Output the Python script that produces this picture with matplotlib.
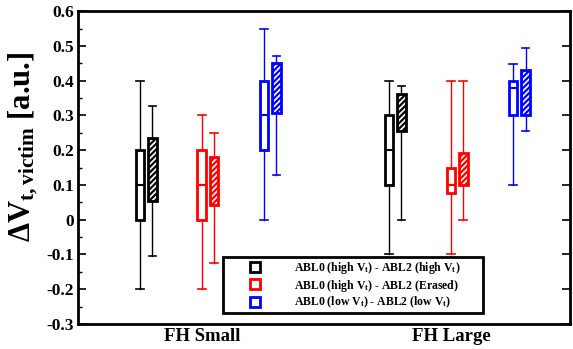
import matplotlib
matplotlib.use('Agg')
import matplotlib.pyplot as plt
from matplotlib.lines import Line2D
from matplotlib.ticker import MultipleLocator, FixedLocator

plt.rcParams['font.family'] = ['Liberation Serif', 'DejaVu Serif']
plt.rcParams['font.weight'] = 'bold'
plt.rcParams['axes.labelweight'] = 'bold'
plt.rcParams['mathtext.fontset'] = 'custom'
plt.rcParams['mathtext.rm'] = 'Liberation Serif:bold'
plt.rcParams['mathtext.it'] = 'Liberation Serif:bold'
plt.rcParams['mathtext.bf'] = 'Liberation Serif:bold'
plt.rcParams['mathtext.default'] = 'rm'
plt.rcParams['hatch.linewidth'] = 1.6

categories = ['FH Small', 'FH Large']
series_labels = [r'ABL0 (high V$_t$) - ABL2 (high V$_t$)',
                 r'ABL0 (high V$_t$) - ABL2 (Erased)',
                 r'ABL0 (low V$_t$) - ABL2 (low V$_t$)']
series_colors = ['black', 'red', 'blue']

# (whisker low, Q1, median, Q3, whisker high) per category [FH Small, FH Large]
high_high_abl0 = [(-0.20, 0.00, 0.10, 0.20, 0.40), (-0.10, 0.10, 0.20, 0.30, 0.40)]
high_high_abl2 = [(-0.105, 0.055, 0.145, 0.236, 0.328), (0.00, 0.254, 0.31, 0.362, 0.385)]
high_erased_abl0 = [(-0.20, 0.00, 0.10, 0.20, 0.30), (-0.10, 0.078, 0.10, 0.15, 0.40)]
high_erased_abl2 = [(-0.124, 0.041, 0.11, 0.18, 0.25), (0.00, 0.099, 0.145, 0.193, 0.40)]
low_low_abl0 = [(0.00, 0.20, 0.30, 0.40, 0.548), (0.10, 0.30, 0.379, 0.40, 0.449)]
low_low_abl2 = [(0.129, 0.306, 0.38, 0.452, 0.47), (0.254, 0.30, 0.37, 0.432, 0.495)]

series_open = [high_high_abl0, high_erased_abl0, low_low_abl0]
series_hatched = [high_high_abl2, high_erased_abl2, low_low_abl2]

fig = plt.figure(figsize=(5.73, 3.49), dpi=100)
ax = fig.add_axes([0.136, 0.0716, 0.859, 0.8964])

sub_offsets = [-0.248, 0.0, 0.25]
pair_off = 0.025
bw = 0.034

def stat(t):
    lo, q1, med, q3, hi = t
    return dict(whislo=lo, q1=q1, med=med, q3=q3, whishi=hi, fliers=[])

for si, color in enumerate(series_colors):
    for ci in range(len(categories)):
        center = ci + 1 + sub_offsets[si]
        # open box (ABL0)
        ax.bxp([stat(series_open[si][ci])], positions=[center - pair_off], widths=bw,
               patch_artist=True, showfliers=False,
               boxprops=dict(facecolor='white', edgecolor=color, linewidth=2),
               medianprops=dict(color=color, linewidth=1.5),
               whiskerprops=dict(color=color, linewidth=1),
               capprops=dict(color=color, linewidth=1.2),
               capwidths=bw * 0.9)
        # hatched box (ABL2)
        ax.bxp([stat(series_hatched[si][ci])], positions=[center + pair_off], widths=bw,
               patch_artist=True, showfliers=False,
               boxprops=dict(facecolor='white', edgecolor=color, linewidth=2, hatch='//////'),
               medianprops=dict(color=color, linewidth=0),
               whiskerprops=dict(color=color, linewidth=1),
               capprops=dict(color=color, linewidth=1.2),
               capwidths=bw * 0.9)

ax.set_xlim(0.478, 2.454)
ax.set_ylim(-0.3, 0.6)
ax.xaxis.set_major_locator(FixedLocator([i + 1 - 0.024 for i in range(len(categories))]))
ax.set_xticklabels(categories, fontsize=13.5, fontweight='bold')
ax.tick_params(axis='x', length=0, pad=3)
yt = [round(-0.3 + 0.1 * i, 1) for i in range(10)]
ax.set_yticks(yt)
ax.yaxis.set_minor_locator(MultipleLocator(0.05))
ax.set_yticklabels(['0' if v == 0 else ('%.1f' % v) for v in yt], fontsize=12.5, fontweight='bold')
ax.tick_params(axis='y', which='major', direction='in', length=6, width=1.2, right=True, pad=3)
ax.tick_params(axis='y', which='minor', direction='in', length=3, width=1.0, right=False)
for sp in ax.spines.values():
    sp.set_linewidth(2)

ax.set_ylabel(r'$\Delta$V$_{t,victim}$ [a.u.]', fontsize=22, fontweight='bold')
ax.yaxis.set_label_coords(-0.078, 0.565)

handles = [Line2D([], [], marker='s', linestyle='none', markerfacecolor='none',
                  markeredgecolor=c, markeredgewidth=2, markersize=7) for c in series_colors]
leg = ax.legend(handles, series_labels, loc='lower left',
                bbox_to_anchor=(0.294, 0.034, 0.528, 0.181), mode='expand',
                borderaxespad=0, prop=dict(family='Liberation Serif', weight='bold', size=8.5),
                frameon=True, fancybox=False, edgecolor='black', handlelength=4.9,
                handletextpad=0.9, borderpad=0.25, labelspacing=0.12)
leg.get_frame().set_linewidth(2)
leg.get_frame().set_alpha(1)

fig.savefig('out.png', dpi=100)
